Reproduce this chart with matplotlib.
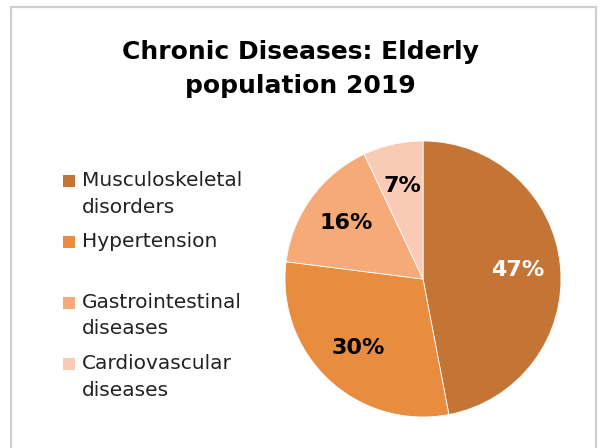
import matplotlib.pyplot as plt
from matplotlib.patches import Rectangle

labels = ["Musculoskeletal\ndisorders", "Hypertension",
          "Gastrointestinal\ndiseases", "Cardiovascular\ndiseases"]
values = [47, 30, 16, 7]
colors = ["#C47535", "#E88D40", "#F5AA78", "#F9CBB5"]
label_colors = ["white", "black", "black", "black"]

W, H = 601, 448
fig = plt.figure(figsize=(W / 100, H / 100), dpi=100)
plt.rcParams['font.family'] = ['DejaVu Sans']

# chart border
fig.patches.append(Rectangle((11 / W, -0.05), 585 / W, 1.05 - 7 / H,
                             transform=fig.transFigure, fill=False,
                             edgecolor="#CFCFCF", linewidth=1.6))

fig.text(0.5, 1 - 69 / H, "Chronic Diseases: Elderly\npopulation 2019",
         ha="center", va="center", fontsize=18, fontweight="bold",
         linespacing=1.5)

# pie
cx, cy, r = 423, 279, 138
ax = fig.add_axes([(cx - r) / W, (H - cy - r) / H, 2 * r / W, 2 * r / H])
wedges, _, autotexts = ax.pie(values, colors=colors, startangle=90,
                              counterclock=False, autopct="%d%%",
                              pctdistance=0.69,
                              wedgeprops=dict(edgecolor="white", linewidth=0.6),
                              textprops=dict(fontsize=16, fontweight="bold"))
for t, c in zip(autotexts, label_colors):
    t.set_color(c)
ax.set_xlim(-1, 1)
ax.set_ylim(-1, 1)
ax.set_aspect("equal")

# legend
for i, (lab, col) in enumerate(zip(labels, colors)):
    y = 181 + i * 61
    fig.patches.append(Rectangle((63 / W, 1 - (y + 6) / H), 12 / W, 12 / H,
                                 transform=fig.transFigure, facecolor=col,
                                 edgecolor="none"))
    fig.text(82 / W, 1 - (y - 10) / H, lab, ha="left", va="top",
             fontsize=14.5, color="#222222", linespacing=1.5)

fig.savefig("out.png", dpi=100)
